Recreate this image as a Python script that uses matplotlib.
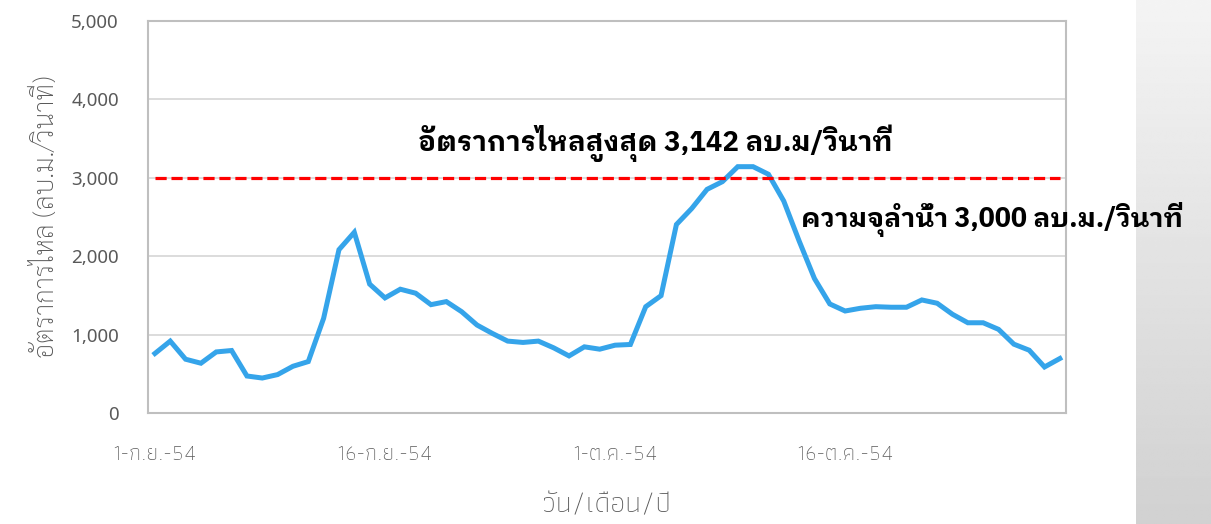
import matplotlib
matplotlib.use('Agg')
import matplotlib.pyplot as plt
import numpy as np

# daily discharge 1 Sep - 30 Oct 2011 (m3/s)
flow = [759, 917, 686, 635, 779, 797, 472, 446, 490, 596,
        656, 1208, 2083, 2305, 1644, 1468, 1579, 1528, 1382, 1421,
        1292, 1122, 1015, 917, 900, 917, 831, 728, 844, 814,
        865, 874, 1356, 1497, 2404, 2609, 2853, 2951, 3142, 3142,
        3045, 2703, 2195, 1715, 1391, 1301, 1336, 1356, 1349, 1349,
        1442, 1400, 1259, 1151, 1151, 1067, 878, 801, 587, 695]
capacity = 3000
tick_days = [0, 15, 30, 45]
tick_labels = ['1-ก.ย.-54', '16-ก.ย.-54', '1-ต.ค.-54', '16-ต.ค.-54']
y_ticks = [0, 1000, 2000, 3000, 4000, 5000]

plt.rcParams['font.family'] = ['Athiti', 'DejaVu Sans']
grey = '#595959'
days = np.arange(len(flow))

fig = plt.figure(figsize=(12.11, 5.24), dpi=100)
ax = fig.add_axes([148 / 1211, 1 - 413 / 524, 918 / 1211, 392 / 524])

ax.plot(days, flow, color='#35A4EA', lw=3.6, solid_joinstyle='miter', zorder=3)
ax.plot([days[0], days[-1]], [capacity, capacity], color='#FF0000', lw=2.3,
        dashes=(3.5, 1.5), zorder=4)

ax.set_xlim(-0.45, len(flow) - 0.6)
ax.set_ylim(0, 5000)
ax.set_yticks(y_ticks)
ax.set_yticklabels(['{:,}'.format(v) for v in y_ticks], fontfamily='Noto Sans',
                   fontweight='light')
ax.set_xticks(tick_days)
ax.set_xticklabels(tick_labels, fontweight='light', fontsize=16)
ax.tick_params(length=0, colors=grey)
ax.tick_params(axis='y', pad=21, labelsize=13.5)
ax.tick_params(axis='x', pad=22)
ax.yaxis.grid(True, color='#d9d9d9', lw=1.3)
ax.set_axisbelow(True)
for s in ax.spines.values():
    s.set_color('#bfbfbf')
    s.set_linewidth(1.5)

ax.set_ylabel('อัตราการไหล (ลบ.ม./วินาที)', color=grey, fontsize=19,
              fontfamily='Sarabun', fontweight='light', labelpad=8)
ax.set_xlabel('วัน/เดือน/ปี', color=grey, fontsize=21, fontweight='light', labelpad=21)

ax.text(32.6, 3440, 'อัตราการไหลสูงสุด 3,142 ลบ.ม/วินาที', ha='center', va='center',
        fontsize=19.9, fontweight='bold', fontfamily='IBM Plex Sans Thai Looped', color='black')
ax.text(42.1, 2470, 'ความจุลำน้ำ 3,000 ลบ.ม./วินาที', ha='left', va='center',
        fontsize=19.2, fontweight='bold', fontfamily='IBM Plex Sans Thai Looped', color='black',
        clip_on=False, zorder=6)

# grey gradient panel on the right edge
side = fig.add_axes([1136 / 1211, 0, 75 / 1211, 1], zorder=-1)
grad = np.linspace(0.955, 0.82, 200)[:, None] * np.ones((1, 10))
side.imshow(grad, cmap='gray', vmin=0, vmax=1, aspect='auto', extent=[0, 1, 0, 1], origin='upper')
side.axis('off')

fig.savefig('out.png', dpi=100)
